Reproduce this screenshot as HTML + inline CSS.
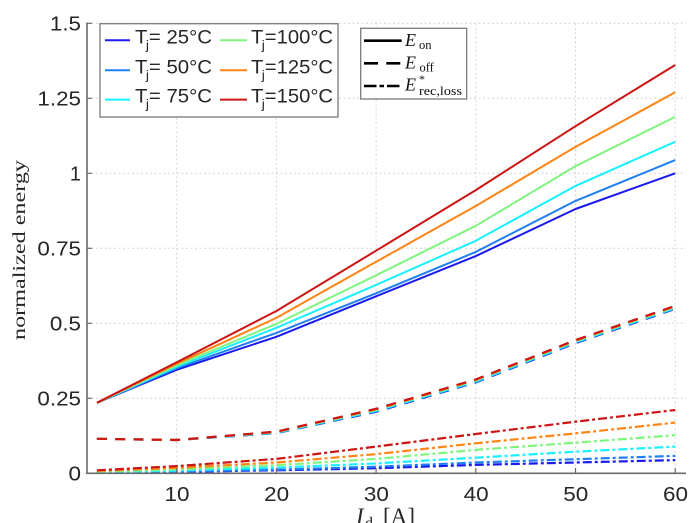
<!DOCTYPE html>
<html><head><meta charset="utf-8"><style>
html,body{margin:0;padding:0;background:#fff;}
svg{display:block;}
</style></head><body>
<svg width="694" height="523" viewBox="0 0 694 523" xmlns="http://www.w3.org/2000/svg">
<rect width="694" height="523" fill="#fff"/>
<!-- grid -->
<g stroke="#d4d4d4" stroke-width="1" stroke-dasharray="2 2.5" fill="none">
<line x1="176.7" y1="23.3" x2="176.7" y2="473.3"/>
<line x1="276.4" y1="23.3" x2="276.4" y2="473.3"/>
<line x1="376.1" y1="23.3" x2="376.1" y2="473.3"/>
<line x1="475.8" y1="23.3" x2="475.8" y2="473.3"/>
<line x1="575.5" y1="23.3" x2="575.5" y2="473.3"/>
<line x1="675.2" y1="23.3" x2="675.2" y2="473.3"/>
<line x1="87" y1="398.3" x2="686" y2="398.3"/>
<line x1="87" y1="323.3" x2="686" y2="323.3"/>
<line x1="87" y1="248.3" x2="686" y2="248.3"/>
<line x1="87" y1="173.3" x2="686" y2="173.3"/>
<line x1="87" y1="98.3" x2="686" y2="98.3"/>
<line x1="87" y1="23.3" x2="686" y2="23.3"/>
</g>
<!-- E_on -->
<g fill="none" stroke-width="2" stroke-linejoin="round">
<polyline stroke="#1a1aee" points="96.9,402.8 176.7,369.8 276.4,336.8 376.1,296.3 475.8,256.1 575.5,209.0 675.2,173.3"/>
<polyline stroke="#2080f0" points="96.9,402.8 176.7,368.3 276.4,332.9 376.1,293.3 475.8,251.9 575.5,200.9 675.2,160.1"/>
<polyline stroke="#19f0ff" points="96.9,402.8 176.7,366.8 276.4,327.8 376.1,284.9 475.8,240.8 575.5,185.9 675.2,141.8"/>
<polyline stroke="#7ff57f" points="96.9,402.8 176.7,365.3 276.4,323.9 376.1,275.3 475.8,225.8 575.5,166.1 675.2,116.9"/>
<polyline stroke="#ff8414" points="96.9,402.8 176.7,363.8 276.4,317.9 376.1,261.8 475.8,206.0 575.5,146.9 675.2,92.3"/>
<polyline stroke="#cc1414" points="96.9,402.8 176.7,362.3 276.4,311.0 376.1,250.7 475.8,190.1 575.5,126.2 675.2,65.0"/>
</g>
<!-- E_off -->
<g fill="none" stroke-width="2.2" stroke-dasharray="10 8.3" stroke-linejoin="round">
<polyline stroke="#1a1aee" points="96.9,438.8 176.7,440.0 276.4,433.1 376.1,411.8 475.8,382.4 575.5,343.1 675.2,308.9"/>
<polyline stroke="#2080f0" points="96.9,438.8 176.7,440.0 276.4,432.9 376.1,411.3 475.8,381.9 575.5,342.6 675.2,308.4"/>
<polyline stroke="#19f0ff" points="96.9,438.8 176.7,440.0 276.4,432.6 376.1,410.8 475.8,381.4 575.5,342.1 675.2,307.9"/>
<polyline stroke="#7ff57f" points="96.9,438.8 176.7,440.0 276.4,432.1 376.1,409.8 475.8,380.4 575.5,341.1 675.2,306.9"/>
<polyline stroke="#ff8414" points="96.9,438.8 176.7,440.0 276.4,431.9 376.1,409.3 475.8,379.9 575.5,340.6 675.2,306.4"/>
<polyline stroke="#cc1414" points="96.9,438.8 176.7,440.0 276.4,431.6 376.1,408.8 475.8,379.4 575.5,340.1 675.2,305.9"/>
</g>
<!-- E_rec -->
<g fill="none" stroke-width="2.2" stroke-dasharray="9 3 3 3" stroke-linejoin="round">
<polyline stroke="#1a1aee" points="96.9,472.7 176.7,471.8 276.4,470.3 376.1,468.2 475.8,464.9 575.5,462.5 675.2,460.1"/>
<polyline stroke="#2080f0" points="96.9,472.4 176.7,471.5 276.4,469.7 376.1,466.7 475.8,462.5 575.5,459.2 675.2,455.9"/>
<polyline stroke="#19f0ff" points="96.9,472.1 176.7,470.6 276.4,467.6 376.1,463.4 475.8,457.7 575.5,451.7 675.2,446.6"/>
<polyline stroke="#7ff57f" points="96.9,471.5 176.7,469.4 276.4,465.2 376.1,458.9 475.8,449.9 575.5,442.7 675.2,435.2"/>
<polyline stroke="#ff8414" points="96.9,470.9 176.7,467.9 276.4,462.5 376.1,454.1 475.8,443.3 575.5,433.4 675.2,422.6"/>
<polyline stroke="#cc1414" points="96.9,470.3 176.7,466.1 276.4,458.9 376.1,446.6 475.8,434.0 575.5,421.7 675.2,410.0"/>
</g>
<!-- axes -->
<g stroke="#6b6b6b" stroke-width="1.6" fill="none">
<line x1="87" y1="22.5" x2="87" y2="474"/>
<line x1="86.2" y1="473.3" x2="686" y2="473.3"/>
</g>
<g stroke="#6b6b6b" stroke-width="1.2">
<line x1="87" y1="23.3" x2="92" y2="23.3"/>
<line x1="87" y1="98.3" x2="92" y2="98.3"/>
<line x1="87" y1="173.3" x2="92" y2="173.3"/>
<line x1="87" y1="248.3" x2="92" y2="248.3"/>
<line x1="87" y1="323.3" x2="92" y2="323.3"/>
<line x1="87" y1="398.3" x2="92" y2="398.3"/>
<line x1="176.7" y1="473.3" x2="176.7" y2="468"/>
<line x1="276.4" y1="473.3" x2="276.4" y2="468"/>
<line x1="376.1" y1="473.3" x2="376.1" y2="468"/>
<line x1="475.8" y1="473.3" x2="475.8" y2="468"/>
<line x1="575.5" y1="473.3" x2="575.5" y2="468"/>
<line x1="675.2" y1="473.3" x2="675.2" y2="468"/>
</g>
<!-- y tick labels -->
<g font-family="Liberation Sans, Arial, sans-serif" font-size="20" fill="#262626" text-anchor="end">
<text x="81" y="480.5" textLength="12.5" lengthAdjust="spacingAndGlyphs">0</text>
<text x="81" y="405.5" textLength="43.6" lengthAdjust="spacingAndGlyphs">0.25</text>
<text x="81" y="330.5" textLength="31.1" lengthAdjust="spacingAndGlyphs">0.5</text>
<text x="81" y="255.5" textLength="43.6" lengthAdjust="spacingAndGlyphs">0.75</text>
<text x="81" y="180.5">1</text>
<text x="81" y="105.5" textLength="43.6" lengthAdjust="spacingAndGlyphs">1.25</text>
<text x="81" y="30.5" textLength="31.1" lengthAdjust="spacingAndGlyphs">1.5</text>
</g>
<!-- x tick labels -->
<g font-family="Liberation Sans, Arial, sans-serif" font-size="20" fill="#262626" text-anchor="middle">
<text x="177" y="501" textLength="25" lengthAdjust="spacingAndGlyphs">10</text>
<text x="276.7" y="501" textLength="25" lengthAdjust="spacingAndGlyphs">20</text>
<text x="376.4" y="501" textLength="25" lengthAdjust="spacingAndGlyphs">30</text>
<text x="476.1" y="501" textLength="25" lengthAdjust="spacingAndGlyphs">40</text>
<text x="575.8" y="501" textLength="25" lengthAdjust="spacingAndGlyphs">50</text>
<text x="675.5" y="501" textLength="25" lengthAdjust="spacingAndGlyphs">60</text>
</g>
<!-- axis labels -->
<text transform="translate(25,250) rotate(-90)" text-anchor="middle" font-family="Liberation Serif, 'Times New Roman', serif" font-size="18" fill="#262626" textLength="180" lengthAdjust="spacingAndGlyphs">normalized energy</text>
<g font-family="Liberation Serif, 'Times New Roman', serif" fill="#262626">
<text x="356" y="524" font-size="23" font-style="italic">I</text>
<text x="365" y="528" font-size="16">d</text>
<text x="383" y="524" font-size="23" textLength="32" lengthAdjust="spacingAndGlyphs">[A]</text>
</g>
<!-- legend 1 -->
<rect x="100" y="23.7" width="238" height="93.3" fill="#fff" stroke="#7a7a7a" stroke-width="1.3"/>
<g stroke-width="2" fill="none">
<line x1="105" y1="40.3" x2="130" y2="40.3" stroke="#1a1aee"/>
<line x1="105" y1="70.3" x2="130" y2="70.3" stroke="#2080f0"/>
<line x1="105" y1="99.6" x2="130" y2="99.6" stroke="#19f0ff"/>
<line x1="220" y1="40.3" x2="247" y2="40.3" stroke="#7ff57f"/>
<line x1="220" y1="70.3" x2="247" y2="70.3" stroke="#ff8414"/>
<line x1="220" y1="99.6" x2="247" y2="99.6" stroke="#cc1414"/>
</g>
<g font-family="Liberation Sans, Arial, sans-serif" font-size="19" fill="#262626">
<text x="135" y="43.3" textLength="77" lengthAdjust="spacingAndGlyphs">T<tspan font-size="13" dx="-1.5" dy="6">j</tspan><tspan dy="-6">= 25°C</tspan></text>
<text x="135" y="73.3" textLength="77" lengthAdjust="spacingAndGlyphs">T<tspan font-size="13" dx="-1.5" dy="6">j</tspan><tspan dy="-6">= 50°C</tspan></text>
<text x="135" y="102.7" textLength="77" lengthAdjust="spacingAndGlyphs">T<tspan font-size="13" dx="-1.5" dy="6">j</tspan><tspan dy="-6">= 75°C</tspan></text>
<text x="251" y="43.3" textLength="82" lengthAdjust="spacingAndGlyphs">T<tspan font-size="13" dx="-1.5" dy="6">j</tspan><tspan dy="-6">=100°C</tspan></text>
<text x="251" y="73.3" textLength="82" lengthAdjust="spacingAndGlyphs">T<tspan font-size="13" dx="-1.5" dy="6">j</tspan><tspan dy="-6">=125°C</tspan></text>
<text x="251" y="102.7" textLength="82" lengthAdjust="spacingAndGlyphs">T<tspan font-size="13" dx="-1.5" dy="6">j</tspan><tspan dy="-6">=150°C</tspan></text>
</g>
<!-- legend 2 -->
<rect x="360.7" y="28.3" width="106" height="70.7" fill="#fff" stroke="#7a7a7a" stroke-width="1.3"/>
<g stroke="#000" stroke-width="2.6" fill="none">
<line x1="364" y1="40.7" x2="401.7" y2="40.7"/>
<line x1="364" y1="63.3" x2="401.7" y2="63.3" stroke-dasharray="14 8.3"/>
<line x1="364" y1="86" x2="401.7" y2="86" stroke-dasharray="12.5 3 4.5 3"/>
</g>
<g font-family="Liberation Serif, 'Times New Roman', serif" fill="#111">
<text x="405" y="46" font-size="18" font-style="italic">E</text>
<text x="419" y="49" font-size="12.5">on</text>
<text x="405" y="68.3" font-size="18" font-style="italic">E</text>
<text x="419.5" y="71.5" font-size="12.5">off</text>
<text x="405" y="90.7" font-size="18" font-style="italic">E</text>
<text x="419" y="83" font-size="12">*</text>
<text x="419" y="95" font-size="12.5" textLength="43" lengthAdjust="spacingAndGlyphs">rec,loss</text>
</g>
</svg>
</body></html>
